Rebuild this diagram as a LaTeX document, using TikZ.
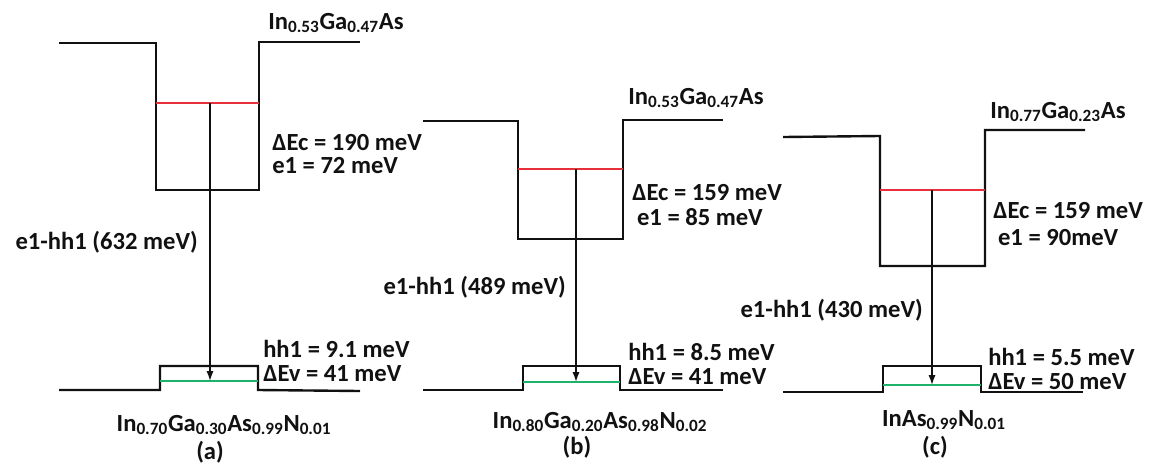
\documentclass[tikz,border=0pt]{standalone}
\usepackage{fontspec}
\setmainfont{Carlito}
\usetikzlibrary{arrows.meta}
\definecolor{ink}{HTML}{111111}
\definecolor{elevel}{HTML}{E8303A}
\definecolor{hlevel}{HTML}{1DB36B}
\newcommand{\sub}[1]{\textsubscript{#1}}

\begin{document}
\begin{tikzpicture}[x=0.025cm,y=-0.025cm,
    font=\fontsize{17.5}{21}\selectfont\bfseries,text=ink,
    >={Latex[length=7pt,width=5pt]},
    band/.style={ink,line width=1.7pt,line join=miter},
    elev/.style={elevel,line width=1.8pt},
    hlev/.style={hlevel,line width=1.6pt},
    trans/.style={ink,line width=1pt,->},
    lbl/.style={inner sep=0pt},
    pair/.style={inner sep=0pt,anchor=west,align=left,
      font=\fontsize{17.5}{16.5}\selectfont\bfseries}]
  \useasboundingbox (0,0) rectangle (1157,468);

  % (a)
  \draw[band] (59,43) -- (156,43) -- (156,190) -- (259,190) -- (259,42) -- (360,42);
  \draw[elev] (156,103) -- (259,103);
  \draw[band] (59,390) -- (160,390) -- (160,366) -- (258,366) -- (258,390) -- (360,391);
  \draw[hlev] (160,381) -- (258,381);
  \coordinate (lvlea) at (210,103);
  \coordinate (lvlha) at (210,381);
  \draw[trans] (lvlea) -- (lvlha);
  \node[lbl,anchor=west] (topa) at (268,23) {In\sub{0.53}Ga\sub{0.47}As};
  \node[pair] (dEca) at (272,154) {ΔEc = 190 meV\\e1 = 72 meV};
  \node[lbl,anchor=east] (trana) at (198,242) {e1-hh1 (632 meV)};
  \node[pair] (hh1a) at (263,361) {hh1 = 9.1 meV\\ΔEv = 41 meV};
  \node[lbl] (wella) at (224,425) {In\sub{0.70}Ga\sub{0.30}As\sub{0.99}N\sub{0.01}};
  \node[lbl] (capa) at (210,452) {(a)};

  % (b)
  \draw[band] (423,121) -- (518,121) -- (518,239) -- (623,239) -- (623,120) -- (723,120);
  \draw[elev] (518,169) -- (623,169);
  \draw[band] (423,390) -- (523,390) -- (523,366) -- (620,366) -- (620,390) -- (723,390);
  \draw[hlev] (523,382) -- (620,382);
  \coordinate (lvleb) at (576,169);
  \coordinate (lvlhb) at (576,382);
  \draw[trans] (lvleb) -- (lvlhb);
  \node[lbl,anchor=west] (topb) at (628,98) {In\sub{0.53}Ga\sub{0.47}As};
  \node[pair] (dEcb) at (632,205) {ΔEc = 159 meV\\[1pt]\hspace{0.12cm}e1 = 85 meV};
  \node[lbl,anchor=east] (tranb) at (566,287) {e1-hh1 (489 meV)};
  \node[pair] (hh1b) at (628,364) {hh1 = 8.5 meV\\ΔEv = 41 meV};
  \node[lbl] (wellb) at (600,422) {In\sub{0.80}Ga\sub{0.20}As\sub{0.98}N\sub{0.02}};
  \node[lbl] (capb) at (577,447) {(b)};

  % (c)
  \draw[band] (783,137) -- (880,136) -- (880,266) -- (985,266) -- (985,130) -- (1085,130);
  \draw[elev] (880,190) -- (985,190);
  \draw[band] (783,392) -- (883,392) -- (883,366) -- (981,366) -- (981,392) -- (1083,392);
  \draw[hlev] (883,385) -- (981,385);
  \coordinate (lvlec) at (932,190);
  \coordinate (lvlhc) at (932,385);
  \draw[trans] (lvlec) -- (lvlhc);
  \node[lbl,anchor=west] (topc) at (990,112) {In\sub{0.77}Ga\sub{0.23}As};
  \node[pair] (dEcc) at (993,224) {ΔEc = 159 meV\\[3pt]\hspace{0.12cm}e1 = 90meV};
  \node[lbl,anchor=east] (tranc) at (923,310) {e1-hh1 (430 meV)};
  \node[pair] (hh1c) at (988,369) {hh1 = 5.5 meV\\ΔEv = 50 meV};
  \node[lbl] (wellc) at (944,420) {InAs\sub{0.99}N\sub{0.01}};
  \node[lbl] (capc) at (935,447) {(c)};
\end{tikzpicture}
\end{document}
